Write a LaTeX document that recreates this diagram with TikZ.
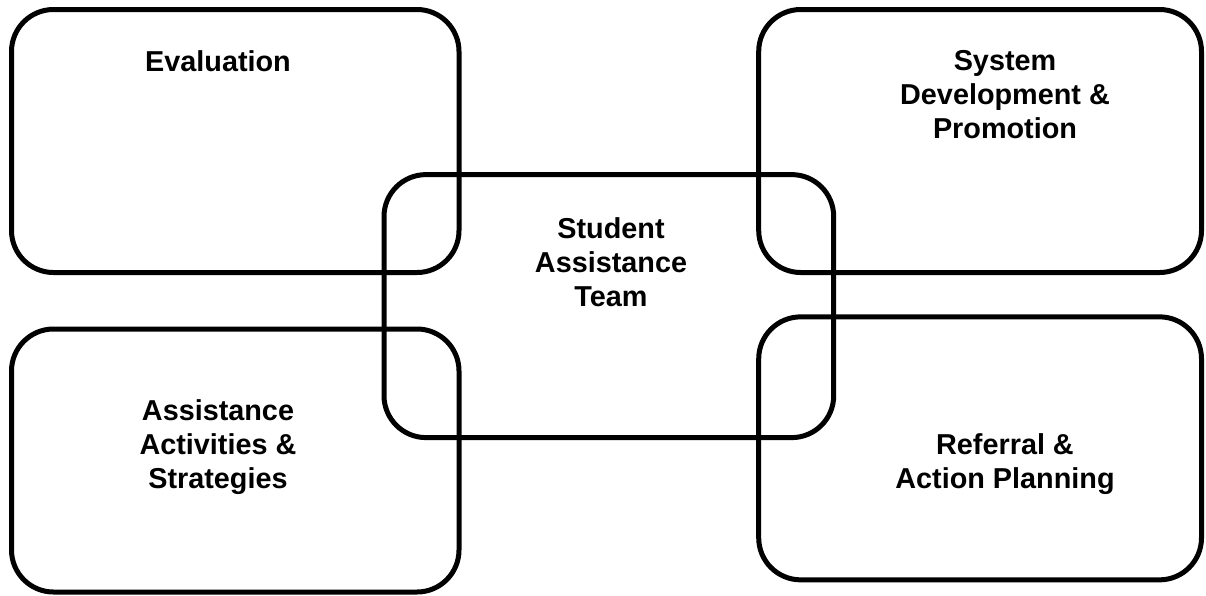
\documentclass[tikz,border=0pt]{standalone}
\usepackage{fontspec}
\setmainfont{Liberation Sans}
\begin{document}
\begin{tikzpicture}[x=1pt,y=-1pt,
    areabox/.style={draw=black,line width=5pt,rounded corners=42pt,inner sep=0pt,minimum height=263pt},
    arealabel/.style={inner sep=0pt,align=center,anchor=base,font=\bfseries\fontsize{28.8pt}{34pt}\selectfont}]
    \useasboundingbox (0,0) rectangle (1206,595);
    \node [areabox,minimum width=447.5pt] (eval) at (235.25,141) {};
    \node [areabox,minimum width=442.8pt] (sysdev) at (980.1,141) {};
    \node [areabox,minimum width=449.7pt] (team) at (608.85,306.1) {};
    \node [areabox,minimum width=447.5pt] (assist) at (235.25,460.5) {};
    \node [areabox,minimum width=442.8pt] (referral) at (980.1,448.35) {};
    % base anchor sits on the last line
    \node [arealabel] (evaltext) at (218,71) {Evaluation};
    \node [arealabel] (sysdevtext) at (1005,138) {System\\Development \&\\Promotion};
    \node [arealabel] (teamtext) at (611,306.5) {Student\\Assistance\\Team};
    \node [arealabel] (assisttext) at (218,488) {Assistance\\Activities \&\\Strategies};
    \node [arealabel] (referraltext) at (1005,488.3) {Referral \&\\Action Planning};
\end{tikzpicture}
\end{document}
